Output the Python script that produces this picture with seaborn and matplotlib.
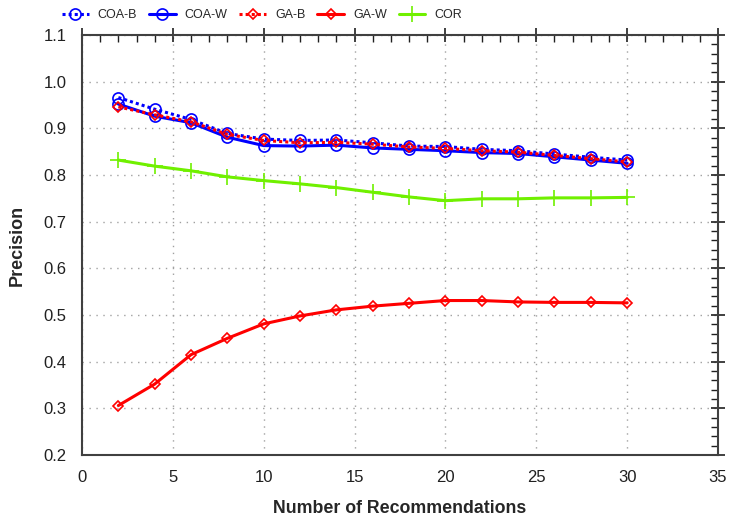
import matplotlib
matplotlib.use("Agg")
import matplotlib.pyplot as plt
import seaborn as sns
import pandas as pd
from matplotlib.ticker import MultipleLocator
from matplotlib.font_manager import FontProperties

x = [2, 4, 6, 8, 10, 12, 14, 16, 18, 20, 22, 24, 26, 28, 30]
coa_b = [0.966, 0.941, 0.919, 0.889, 0.877, 0.874, 0.875, 0.869, 0.862, 0.861, 0.855, 0.852, 0.845, 0.838, 0.832]
coa_w = [0.952, 0.926, 0.912, 0.881, 0.863, 0.862, 0.864, 0.858, 0.855, 0.852, 0.848, 0.846, 0.839, 0.832, 0.825]
ga_b = [0.946, 0.929, 0.914, 0.887, 0.874, 0.869, 0.870, 0.866, 0.860, 0.857, 0.852, 0.849, 0.842, 0.835, 0.828]
ga_w = [0.306, 0.352, 0.415, 0.450, 0.481, 0.498, 0.511, 0.519, 0.525, 0.531, 0.531, 0.528, 0.527, 0.527, 0.526]
cor = [0.832, 0.819, 0.809, 0.796, 0.788, 0.781, 0.773, 0.763, 0.753, 0.745, 0.749, 0.749, 0.751, 0.751, 0.752]

series_names = ["COA-B", "COA-W", "GA-B", "GA-W", "COR"]
series_vals = [coa_b, coa_w, ga_b, ga_w, cor]
y_ticks = [0.2, 0.3, 0.4, 0.5, 0.6, 0.7, 0.8, 0.9, 1.0, 1.1]
y_tick_labels = ["0.2", "0.3", "0.4", "0.5", "0.6", "0.7", "0.8", "0.9", "1.0", "1.1"]

sns.set_style("white")
plt.rcParams['font.family'] = ['Liberation Sans', 'DejaVu Sans']

fig = plt.figure(figsize=(7.29, 5.18), dpi=100)
ax = fig.add_axes([82/729, 1-455/518, (718-82)/729, (455-35)/518])

styles = {
    "COA-B": dict(color="#0000FF", linestyle=(0, (1, 1)), marker="o", markersize=8, lw=2.2),
    "COA-W": dict(color="#0000FF", linestyle="-", marker="o", markersize=8, lw=2.2),
    "GA-B": dict(color="#FF0000", linestyle=(0, (1, 1)), marker="D", markersize=5, lw=2.2),
    "GA-W": dict(color="#FF0000", linestyle="-", marker="D", markersize=5, lw=2.2),
    "COR": dict(color="#70F000", linestyle="-", marker="+", markersize=11, lw=2.2),
}

for name, vals in zip(series_names, series_vals):
    df = pd.DataFrame({"x": x, "y": vals})
    st = styles[name]
    sns.lineplot(data=df, x="x", y="y", ax=ax, label=name,
                 color=st["color"], linestyle=st["linestyle"], marker=st["marker"],
                 markersize=st["markersize"], linewidth=st["lw"],
                 markerfacecolor="none", markeredgecolor=st["color"],
                 markeredgewidth=1.2, legend=False)

ax.set_xlim(0, 35)
ax.set_ylim(0.2, 1.1)
ax.xaxis.set_major_locator(MultipleLocator(5))
ax.xaxis.set_minor_locator(MultipleLocator(1))
ax.yaxis.set_minor_locator(MultipleLocator(0.02))
ax.set_yticks(y_ticks)
ax.set_yticklabels(y_tick_labels)

ax.grid(True, which="major", color="#a0a0a0", linestyle=(0, (1, 4)), linewidth=1)
for s in ax.spines.values():
    s.set_color("#404040")
    s.set_linewidth(1.5)
    s.set_visible(True)

ax.tick_params(which="major", direction="inout", length=10, width=1.2, color="#202020",
               top=True, right=True, labelsize=12, labelcolor="#202020", pad=6)
ax.tick_params(which="minor", direction="in", length=5, width=1.0, color="#202020",
               top=True, right=True)

ax.set_xlabel("Number of Recommendations", fontsize=12.8, fontweight="bold")
ax.set_ylabel("Precision", fontsize=13, fontweight="bold")
ax.xaxis.set_label_coords(0.5, -0.107)
ax.yaxis.set_label_coords(-0.088, 0.5)

leg_font = FontProperties(family=['Liberation Sans', 'DejaVu Sans'], size=9)
handles, labels = ax.get_legend_handles_labels()
fig.legend(handles, labels, loc="center left", bbox_to_anchor=(62/729, 1-15/518),
           ncol=5, frameon=False, prop=leg_font, handlelength=2.15,
           columnspacing=0.95, handletextpad=0.7, borderpad=0, borderaxespad=0)

fig.savefig("out.png", dpi=100)
